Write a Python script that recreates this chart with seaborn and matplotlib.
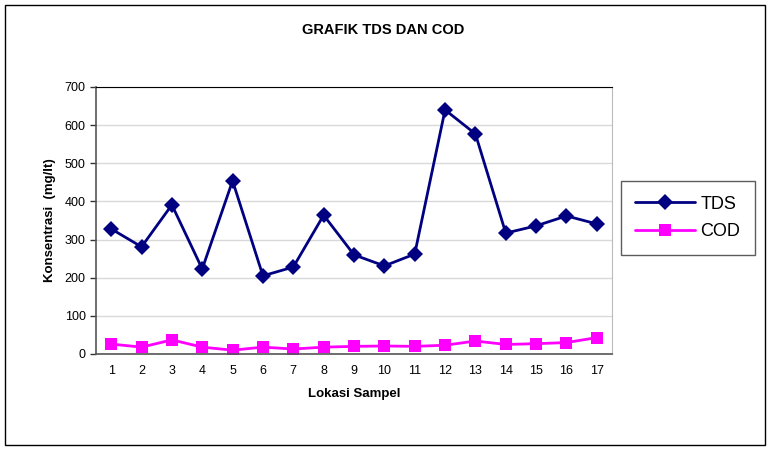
import numpy as np
import pandas as pd
import matplotlib
matplotlib.use("Agg")
import matplotlib.pyplot as plt
from matplotlib.patches import Rectangle
import seaborn as sns

# data
lokasi = list(range(1, 18))
tds = [328, 281, 391, 223, 454, 205, 228, 364, 260, 231, 262, 640, 577, 317, 336, 362, 341]
cod = [26, 18, 37, 18, 10, 18, 13, 18, 20, 21, 20, 23, 34, 25, 27, 30, 43]

df = pd.DataFrame({"Lokasi": lokasi * 2,
                   "Nilai": tds + cod,
                   "Parameter": ["TDS"] * 17 + ["COD"] * 17})

sns.set_style("white")
plt.rcParams['font.family'] = ['Liberation Sans', 'DejaVu Sans']
plt.rcParams['text.color'] = 'black'
plt.rcParams['axes.labelcolor'] = 'black'
plt.rcParams['xtick.color'] = 'black'
plt.rcParams['ytick.color'] = 'black'

fig = plt.figure(figsize=(7.72, 4.5), dpi=100)
ax = fig.add_axes([96 / 772, 1 - 354 / 450, (612 - 96) / 772, (354 - 87) / 450])

sns.lineplot(data=df, x="Lokasi", y="Nilai", hue="Parameter", style="Parameter",
             palette={"TDS": "#000080", "COD": "#FF00FF"},
             markers={"TDS": "D", "COD": "s"}, dashes=False,
             markersize=8, linewidth=2, markeredgewidth=0, ax=ax)

ax.set_xlim(0.5, 17.5)
ax.set_ylim(0, 700)
ax.set_yticks(range(0, 701, 100))
ax.yaxis.grid(True, color="#d9d9d9", linewidth=1)
ax.set_xticks(lokasi)
ax.set_xticks(np.arange(0.5, 18, 1), minor=True)
ax.tick_params(axis="x", which="major", length=0, labelsize=9, pad=8)
ax.tick_params(axis="x", which="minor", length=4, width=1, color="#333333", direction="out")
ax.tick_params(axis="y", which="major", length=4, width=1, color="#333333", labelsize=9, left=True, direction="out")

for s in ["left", "bottom"]:
    ax.spines[s].set_color("#555555")
    ax.spines[s].set_linewidth(1.2)
ax.spines["top"].set_color("black")
ax.spines["right"].set_color("#bbbbbb")

ax.set_xlabel("Lokasi Sampel", fontsize=9.5, fontweight="bold", labelpad=8)
ax.set_ylabel("Konsentrasi  (mg/lt)", fontsize=9.5, fontweight="bold", labelpad=6)

fig.text(383 / 772, 1 - 30 / 450, "GRAFIK TDS DAN COD", ha="center", va="center",
         fontsize=10.5, fontweight="bold")

# legend box on the right
handles, labels = ax.get_legend_handles_labels()
ax.legend(handles, labels, loc="center left", bbox_to_anchor=(621 / 772, 1 - 218 / 450),
          bbox_transform=fig.transFigure, frameon=True, fancybox=False, edgecolor="#333333",
          fontsize=13, borderpad=0.8, labelspacing=0.6, handlelength=3.3, handletextpad=0.3,
          borderaxespad=0)

# outer border of the chart
fig.patches.append(Rectangle((5 / 772, 5 / 450), 760 / 772, 440 / 450, transform=fig.transFigure,
                             fill=False, edgecolor="black", linewidth=1))

fig.savefig("out.png", dpi=100)
